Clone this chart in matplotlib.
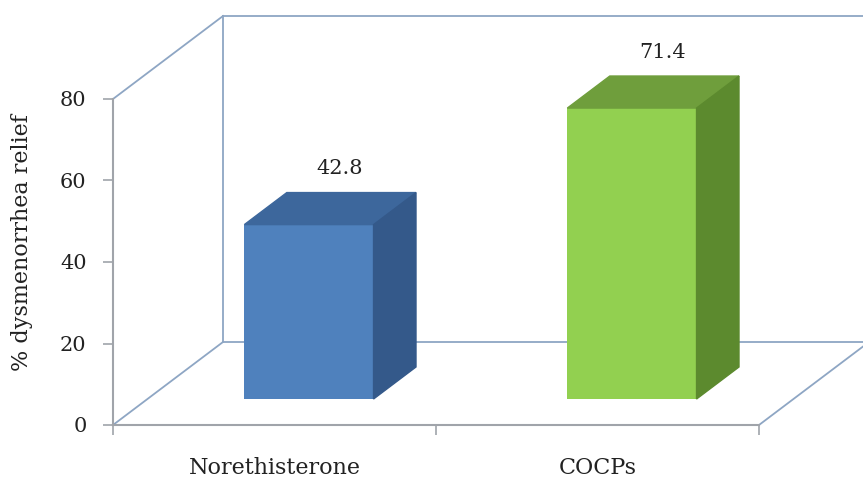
import matplotlib
matplotlib.use("Agg")
import matplotlib.pyplot as plt
from matplotlib.patches import Polygon

# data
categories = ["Norethisterone", "COCPs"]
relief = [42.8, 71.4]
labels = ["42.8", "71.4"]
yticks = [0, 20, 40, 60, 80]

front_colors = ["#4f81bd", "#92d050"]
top_colors = ["#3d679c", "#6f9e3c"]
side_colors = ["#34598a", "#5c8a2e"]

plt.rcParams["font.family"] = ["DejaVu Serif"]

fig = plt.figure(figsize=(8.63, 4.8), dpi=100)
ax = fig.add_axes([113 / 863, 55 / 480, 646 / 863, 326 / 480])
ax.set_xlim(-0.5, 1.5)
ax.set_ylim(0, 80)

# oblique depth (full floor depth) in data units
DX, DY = 0.3406, 20.37
f0, f1 = 0.313, 0.699          # bar front / back depth
W = 0.40

wall = "#8ea6c4"
kw = dict(color=wall, lw=1.3, clip_on=False, zorder=1)
x0, x1 = -0.5, 1.5
ax.plot([x0, x0 + DX], [0, DY], **kw)                 # floor left diagonal
ax.plot([x1, x1 + DX], [0, DY], **kw)                 # floor right diagonal
ax.plot([x0 + DX, x1 + DX], [DY, DY], **kw)           # floor back edge
ax.plot([x0, x0 + DX], [80, 80 + DY], **kw)           # left wall top
ax.plot([x0 + DX, x0 + DX], [DY, 80 + DY], **kw)      # back wall left
ax.plot([x0 + DX, x1 + DX], [80 + DY, 80 + DY], **kw) # back wall top

ddx, ddy = DX * (f1 - f0), DY * (f1 - f0)
for i, v in enumerate(relief):
    xl = i + DX * f0 - W / 2
    xr = xl + W
    b = DY * f0
    t = v + b
    ax.bar(xl, v, width=W, bottom=b, align="edge", color=front_colors[i],
           zorder=3, clip_on=False)
    ax.add_patch(Polygon([(xl, t), (xr, t), (xr + ddx, t + ddy), (xl + ddx, t + ddy)],
                         closed=True, color=top_colors[i], zorder=3, clip_on=False))
    ax.add_patch(Polygon([(xr, b), (xr, t), (xr + ddx, t + ddy), (xr + ddx, b + ddy)],
                         closed=True, color=side_colors[i], zorder=3, clip_on=False))
    ax.text(i + DX * 0.59, v + DY - 0.3, labels[i], ha="center", va="center",
            fontsize=15, color="#222222", zorder=4)

for s in ["top", "right"]:
    ax.spines[s].set_visible(False)
for s in ["left", "bottom"]:
    ax.spines[s].set_color("#a0a4aa")
    ax.spines[s].set_linewidth(1.5)

ax.set_yticks(yticks)
ax.tick_params(axis="y", length=7, width=1.2, color="#a0a4aa", pad=12,
               labelsize=15, labelcolor="#222222")
ax.set_xticks([-0.5, 0.5, 1.5])
ax.set_xticklabels([])
ax.set_xticks([0, 1], minor=True)
ax.set_xticklabels(categories, minor=True)
ax.tick_params(axis="x", which="major", length=7, width=1.2, color="#a0a4aa")
ax.tick_params(axis="x", which="minor", length=0, pad=23, labelsize=16,
               labelcolor="#222222")

fig.text(22 / 863, 1 - 243 / 480, "% dysmenorrhea relief", rotation=90,
         ha="center", va="center", fontsize=16, color="#222222")

fig.savefig("out.png", dpi=100)
